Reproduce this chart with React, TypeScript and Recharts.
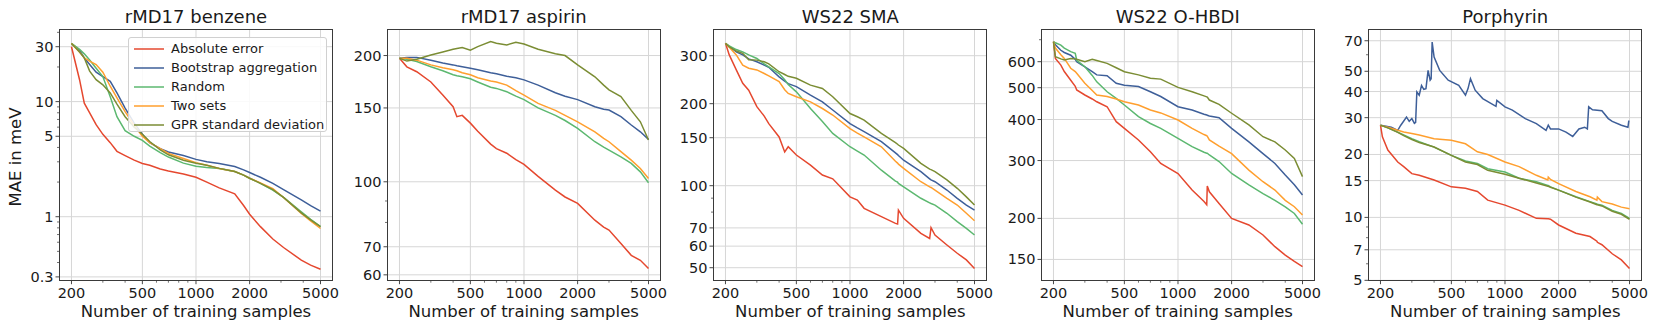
import { LineChart, Line, XAxis, YAxis, CartesianGrid } from "recharts"

// method names and colours, shared by all five panels
const METHODS = ["Absolute error", "Bootstrap aggregation", "Random", "Two sets", "GPR standard deviation"]
const COLORS = ["#e5482f", "#3e5f99", "#5cb870", "#ff9f2e", "#7b8d34"]

const X_MAJOR = [200, 500, 1000, 2000, 5000]
const X_MINOR = [300, 400, 600, 700, 800, 900, 3000, 4000]

// rMD17 benzene
const benzeneN = [200, 222, 236, 253, 275, 300, 330, 360, 400, 450, 500, 550, 630, 700, 850, 1000, 1150, 1350, 1650, 1850, 2000, 2300, 2700, 3100, 3900, 4400, 5000]
const benzeneAbs = [30, 15.5, 9.7, 8, 6.3, 5.2, 4.4, 3.7, 3.4, 3.1, 2.9, 2.8, 2.6, 2.5, 2.35, 2.2, 2.0, 1.78, 1.58, 1.25, 1.05, 0.82, 0.64, 0.54, 0.42, 0.38, 0.35]
const benzeneBag = [32, 28, 24, 21, 18, 16.5, 15, 11.9, 8.8, 6.5, 5.2, 4.4, 3.9, 3.65, 3.4, 3.15, 3.0, 2.9, 2.73, 2.55, 2.42, 2.2, 1.95, 1.72, 1.4, 1.25, 1.12]
const benzeneRandom = [32, 28.5, 26, 23, 19.5, 16.5, 11, 7.4, 5.6, 5.0, 4.6, 4.1, 3.6, 3.3, 2.92, 2.75, 2.68, 2.62, 2.47, 2.3, 2.16, 1.95, 1.7, 1.47, 1.1, 0.95, 0.82]
const benzeneTwo = [32, 27, 24, 22.5, 21, 18, 13.6, 10.8, 8.2, 6.2, 5.0, 4.4, 3.9, 3.55, 3.2, 2.95, 2.8, 2.62, 2.47, 2.3, 2.16, 1.97, 1.75, 1.47, 1.07, 0.92, 0.79]
const benzeneGpr = [32, 27, 24, 18.4, 15.5, 14, 11.9, 9.5, 7.4, 6, 5.2, 4.5, 3.8, 3.45, 3.1, 2.92, 2.8, 2.63, 2.47, 2.3, 2.16, 1.95, 1.72, 1.47, 1.08, 0.94, 0.82]

// rMD17 aspirin
const aspirinN = [200, 220, 250, 300, 350, 400, 420, 450, 500, 550, 650, 700, 800, 900, 1000, 1200, 1500, 1700, 2000, 2500, 2800, 3000, 3500, 4000, 4500, 5000]
const aspirinAbs = [197, 188, 183, 173, 161, 151, 143, 144, 138, 132, 123, 120, 117, 113, 110, 103, 95.5, 92, 88.8, 81, 78, 76.7, 71.3, 66.8, 65, 62.1]
const aspirinBag = [197, 198, 198, 195, 192, 190, 189, 188, 186.5, 185, 182, 181, 178.5, 177, 175, 170, 163, 160, 157, 151, 149, 148.3, 143, 136.6, 131.6, 126.2]
const aspirinRandom = [197, 196, 193.5, 188, 184, 180, 179, 178, 176, 173, 168, 167, 164, 160, 157, 150, 144, 140, 134, 124.6, 121, 119, 114.7, 110.6, 105.6, 99.5]
const aspirinTwo = [197, 197, 195, 190, 187, 185, 184, 182, 180, 177, 174, 173, 170, 165, 161, 153.8, 148, 144, 139, 131.6, 127, 124.6, 118, 112.6, 107.6, 101.8]
const aspirinGpr = [197, 194, 196, 200.7, 204, 207, 208, 209, 206, 210, 216, 214, 212, 215, 213, 207, 202, 200, 190, 178, 170, 165.6, 159.6, 148, 139, 125.8]

// WS22 SMA
const smaN = [200, 210, 230, 250, 270, 300, 330, 350, 400, 430, 450, 500, 600, 700, 800, 1000, 1100, 1200, 1500, 1800, 1850, 1870, 2000, 2500, 2800, 2850, 3000, 3500, 4000, 4500, 5000]
const smaAbs = [333, 302, 266, 237.5, 224, 195, 180, 169, 151, 133, 139, 129.6, 119, 109.4, 106, 91, 88.6, 82.6, 77, 72.7, 72.3, 81.4, 75.9, 66.8, 64, 70.1, 65.9, 60.6, 56.5, 53.4, 49.7]
const smaBag = [333, 325, 310, 302, 292, 285, 277, 272, 251, 242, 237, 231, 215, 203, 189.6, 169, 163, 158, 145, 132, 130, 129, 124, 112.6, 106, 105, 103.4, 96.4, 89.9, 84.9, 81.4]
const smaRandom = [333, 326, 316, 310, 302, 293, 280, 273, 258, 245, 235, 221, 192, 172, 155.6, 139, 134, 129.6, 114, 104, 103, 102, 99, 89.9, 86.5, 86, 84.9, 79.2, 73.8, 69.7, 65.9]
const smaTwo = [333, 322, 302, 277, 270, 266, 258, 253, 241, 225, 218, 212, 203, 192, 181.7, 162, 156, 151, 139, 123, 121, 120, 115.8, 103.4, 99, 98.5, 96.4, 89.9, 84.9, 79.2, 74.4]
const smaGpr = [333, 323, 312, 306, 290, 289, 285, 280, 262, 256, 252, 248, 234, 227.5, 212, 184, 179, 174, 155.6, 144, 142, 141, 137, 120.8, 115, 114.5, 112.6, 105, 97.8, 91, 84.9]

// WS22 O-HBDI
const hbdiN = [200, 205, 220, 230, 250, 265, 270, 300, 330, 350, 400, 450, 500, 600, 700, 800, 1000, 1200, 1400, 1450, 1460, 1500, 1700, 2000, 2500, 3000, 3500, 4000, 4500, 5000]
const hbdiAbs = [690, 614, 586, 560, 527, 505, 492, 475, 462, 453, 437.6, 394, 376, 346.6, 319, 294, 274, 244, 225, 220, 251, 241, 222, 200, 191, 178, 164, 154.6, 148, 142.6]
const hbdiBag = [690, 675, 650, 640, 628, 610, 600, 579, 560, 547, 544, 516, 509, 504, 486, 470, 437.6, 427.6, 415, 413, 412, 410, 405, 376, 342, 315, 294, 271, 253, 235.6]
const hbdiRandom = [690, 685, 674, 660, 644, 636, 606, 579, 545, 521, 486, 464, 443, 408, 389, 376, 350.6, 330.6, 318, 316, 316, 312, 298, 274, 253, 238, 227, 216.9, 207, 192]
const hbdiTwo = [690, 660, 630, 614, 573, 560, 553, 516, 490, 475, 470, 462, 453, 443, 427.6, 419, 398.7, 376, 360, 357, 356, 346.6, 332, 315, 280.6, 258.6, 244, 227, 217, 204.7]
const hbdiGpr = [690, 621.5, 612, 607, 614, 612, 610, 600, 610, 605, 593, 575, 559, 547, 534, 531, 501, 486, 472, 469, 468, 458.6, 445, 418, 385, 354.6, 342, 323, 304.7, 268]

// Porphyrin (bootstrap curve is spiky, so it has its own sample sizes)
const porphN = [200, 205, 220, 250, 270, 300, 330, 400, 500, 600, 700, 800, 1000, 1200, 1500, 1740, 1750, 1800, 2000, 2500, 3000, 3280, 3300, 3500, 4000, 4500, 5000]
const porphAbs = [27.6, 24.3, 21, 18.4, 17.5, 16.2, 15.9, 15.1, 14.0, 13.8, 13.3, 12.1, 11.45, 10.8, 9.9, 9.85, 9.85, 9.8, 9.2, 8.4, 8.1, 7.7, 7.6, 7.4, 6.7, 6.26, 5.7]
const porphRandom = [27.6, 27.4, 26.8, 25.6, 24.8, 23.8, 23, 21.7, 19.8, 18.6, 18.1, 17.1, 16.5, 15.4, 14.8, 14.2, 14.2, 14.0, 13.5, 12.55, 11.9, 11.6, 11.55, 11.45, 10.8, 10.45, 9.9]
const porphTwo = [27.6, 27.4, 27, 26.1, 25.6, 25.2, 24.8, 23.8, 23.4, 22.5, 20.6, 20.0, 18.4, 17.5, 15.9, 15.1, 15.6, 15.2, 14.5, 13.3, 12.55, 12.1, 12.5, 11.9, 11.6, 11.2, 11.0]
const porphGpr = [27.6, 27.4, 26.8, 25.5, 24.6, 23.6, 22.8, 21.7, 19.8, 18.4, 17.9, 16.8, 16.1, 15.4, 14.6, 14.1, 14.1, 13.95, 13.5, 12.5, 11.85, 11.5, 11.5, 11.35, 10.7, 10.35, 9.8]
const porphBagN = [200, 230, 250, 260, 280, 290, 300, 310, 315, 320, 330, 340, 350, 360, 370, 380, 385, 390, 400, 430, 480, 550, 600, 620, 640, 680, 750, 890, 900, 1000, 1100, 1300, 1500, 1700, 1750, 1800, 2000, 2200, 2400, 2600, 2800, 2900, 2950, 3100, 3500, 3800, 4000, 4500, 4900, 4950, 5000]
const porphBag = [27.6, 27, 26.1, 27.6, 30.2, 28.8, 29.7, 28.2, 28.5, 39.8, 38.4, 42.8, 41, 41.3, 50.5, 45.3, 46, 69, 58.5, 50.5, 45.3, 42.8, 38.4, 41.3, 46.1, 40.6, 37, 34, 36.3, 33.8, 32.6, 29.7, 28.1, 26.1, 27.6, 26.5, 26.5, 25.6, 24.4, 26.5, 27, 26.5, 33.8, 32.7, 32.4, 29.7, 28.8, 27.6, 27, 28.8, 28.8]

const panels = [
    {
        title: "rMD17 benzene", plotLeft: 59,
        ns: [benzeneN, benzeneN, benzeneN, benzeneN, benzeneN],
        values: [benzeneAbs, benzeneBag, benzeneRandom, benzeneTwo, benzeneGpr],
        yDomain: [0.278, 42.5], yMajor: [0.3, 1, 5, 10, 30],
        yMinor: [0.4, 0.5, 0.6, 0.7, 0.8, 0.9, 2, 3, 4, 6, 7, 8, 9, 20, 40],
    },
    {
        title: "rMD17 aspirin", plotLeft: 386.7,
        ns: [aspirinN, aspirinN, aspirinN, aspirinN, aspirinN],
        values: [aspirinAbs, aspirinBag, aspirinRandom, aspirinTwo, aspirinGpr],
        yDomain: [58.1, 231], yMajor: [60, 70, 100, 150, 200], yMinor: [80, 90],
    },
    {
        title: "WS22 SMA", plotLeft: 713.3,
        ns: [smaN, smaN, smaN, smaN, smaN],
        values: [smaAbs, smaBag, smaRandom, smaTwo, smaGpr],
        yDomain: [44.8, 375], yMajor: [50, 60, 70, 100, 150, 200, 300], yMinor: [80, 90],
    },
    {
        title: "WS22 O-HBDI", plotLeft: 1040.7,
        ns: [hbdiN, hbdiN, hbdiN, hbdiN, hbdiN],
        values: [hbdiAbs, hbdiBag, hbdiRandom, hbdiTwo, hbdiGpr],
        yDomain: [129.2, 753], yMajor: [150, 200, 300, 400, 500, 600], yMinor: [700],
    },
    {
        title: "Porphyrin", plotLeft: 1368.3,
        ns: [porphN, porphBagN, porphN, porphN, porphN],
        values: [porphAbs, porphBag, porphRandom, porphTwo, porphGpr],
        yDomain: [4.98, 79.4], yMajor: [5, 7, 10, 15, 20, 30, 40, 50, 70], yMinor: [6, 8, 9, 60],
    },
]

const FONT = "'DejaVu Sans', sans-serif"
const INK = "#1a1a1a"
const PLOT_W = 274
const PLOT_TOP = 29.3
const PLOT_H = 251.4
const SVG_W = 340
const INSET = 60

function XTick(props: any) {
    const { x, y, payload } = props
    const major = X_MAJOR.includes(payload.value)
    return (
        <g>
            <line x1={x} x2={x} y1={y} y2={y + (major ? 3.5 : 2)} stroke="#333" strokeWidth={major ? 0.9 : 0.7} />
            {major && (
                <text x={x} y={y + 12} textAnchor="middle" dominantBaseline="central"
                    fontFamily={FONT} fontSize={14.5} fill={INK}>
                    {payload.value}
                </text>
            )}
        </g>
    )
}

function YTick(props: any) {
    const { x, y, payload, major } = props
    const isMajor = major.includes(payload.value)
    return (
        <g>
            <line x1={x} x2={x - (isMajor ? 3.5 : 2)} y1={y} y2={y} stroke="#333" strokeWidth={isMajor ? 0.9 : 0.7} />
            {isMajor && (
                <text x={x - 5.5} y={y} textAnchor="end" dominantBaseline="central"
                    fontFamily={FONT} fontSize={14.5} fill={INK}>
                    {payload.value}
                </text>
            )}
        </g>
    )
}

function Panel({ cfg }: { cfg: any }) {
    const chartLeft = cfg.plotLeft - INSET
    const yTicks = [...cfg.yMajor, ...cfg.yMinor].sort((a: number, b: number) => a - b)

    return (
        <div style={{ position: "absolute", left: chartLeft, top: 0, width: SVG_W, height: 332 }}>

            <div style={{
                position: "absolute", left: INSET, width: PLOT_W, top: 6, textAlign: "center",
                fontFamily: FONT, fontSize: 18, lineHeight: "22px", color: INK, whiteSpace: "nowrap",
            }}>
                {cfg.title}
            </div>

            <LineChart width={SVG_W} height={332}
                margin={{ top: PLOT_TOP, right: SVG_W - INSET - PLOT_W, bottom: 332 - PLOT_TOP - PLOT_H - 40, left: INSET - 40 }}>

                <CartesianGrid stroke="#d6d6d6" strokeWidth={1}
                    horizontalValues={cfg.yMajor} verticalValues={X_MAJOR} />

                <XAxis dataKey="n" type="number" scale="log" domain={[170.2, 5876]} allowDataOverflow
                    ticks={[...X_MAJOR, ...X_MINOR].sort((a, b) => a - b)} interval={0}
                    height={40} axisLine={false} tickLine={false} tickSize={0} tickMargin={0}
                    tick={<XTick />} />

                <YAxis type="number" scale="log" domain={cfg.yDomain} allowDataOverflow
                    ticks={yTicks} interval={0}
                    width={40} axisLine={false} tickLine={false} tickSize={0} tickMargin={0}
                    tick={<YTick major={cfg.yMajor} />} />

                {cfg.values.map((vals: number[], i: number) => (
                    <Line key={METHODS[i]} name={METHODS[i]}
                        data={cfg.ns[i].map((n: number, j: number) => ({ n, v: vals[j] }))}
                        dataKey="v" type="linear" stroke={COLORS[i]} strokeWidth={1.5}
                        dot={false} isAnimationActive={false} />
                ))}

            </LineChart>

            <div style={{
                position: "absolute", left: INSET, top: PLOT_TOP, width: PLOT_W, height: PLOT_H,
                border: "1px solid #3a3a3a", boxSizing: "border-box", pointerEvents: "none",
            }} />

            <div style={{
                position: "absolute", left: INSET - 40, width: PLOT_W + 80, top: 301, textAlign: "center",
                fontFamily: FONT, fontSize: 16.5, lineHeight: "22px", color: INK, whiteSpace: "nowrap",
            }}>
                Number of training samples
            </div>

        </div>
    )
}

function LegendBox() {
    return (
        <div style={{
            position: "absolute", left: 128, top: 37, width: 199, height: 95,
            border: "1px solid #d0d0d0", borderRadius: 3, background: "rgba(255,255,255,0.85)",
            boxSizing: "border-box",
        }}>
            {METHODS.map((m, i) => (
                <div key={m} style={{ position: "absolute", left: 4, top: 1 + i * 19, height: 19, display: "flex", alignItems: "center" }}>
                    <svg width={32} height={4} style={{ marginRight: 6 }}>
                        <line x1={1} x2={31} y1={2} y2={2} stroke={COLORS[i]} strokeWidth={1.5} />
                    </svg>
                    <span style={{ fontFamily: FONT, fontSize: 13, color: INK, whiteSpace: "nowrap" }}>{m}</span>
                </div>
            ))}
        </div>
    )
}

export default function App() {

    return (

        <div style={{ position: "absolute", left: 0, top: 0, width: 1661, height: 332, background: "#fff", overflow: "hidden" }}>

            {panels.map((p) => <Panel key={p.title} cfg={p} />)}

            <LegendBox />

            <div style={{
                position: "absolute", left: 15, top: 157, transform: "translate(-50%, -50%) rotate(-90deg)",
                fontFamily: FONT, fontSize: 16.5, color: INK, whiteSpace: "nowrap",
            }}>
                MAE in meV
            </div>

        </div>

    )

}
